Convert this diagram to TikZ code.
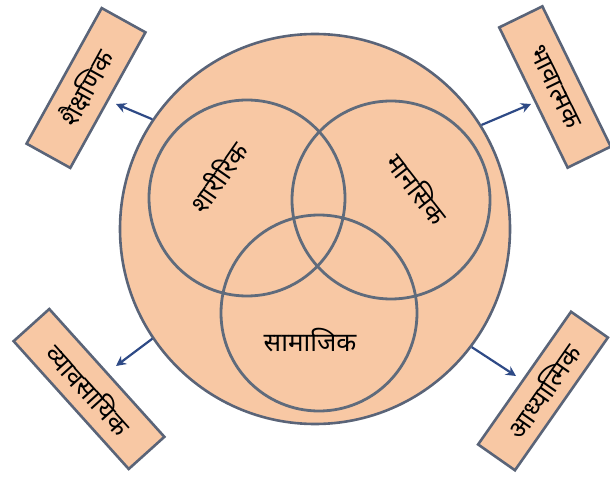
\documentclass[tikz,border=0pt]{standalone}
\usepackage{fontspec}
\newfontfamily\dev[Script=Devanagari]{Noto Sans}
\usetikzlibrary{arrows.meta}
\definecolor{peach}{HTML}{F8C8A4}
\definecolor{edge}{HTML}{5A6478}
\definecolor{ring}{HTML}{5F6B7C}
\definecolor{arrblue}{HTML}{2E4A86}
\tikzset{
  bigc/.style={circle, draw=edge, line width=2.6pt, fill=peach, inner sep=0pt, minimum size=390pt},
  ringc/.style={circle, draw=ring, line width=2.8pt, inner sep=0pt},
  lbl/.style={font=\dev\fontsize{26}{30}\selectfont, text=black, inner sep=0pt},
  tag/.style={draw=edge, line width=2.6pt, fill=peach, inner sep=0pt, font=\dev\fontsize{26}{30}\selectfont},
  arr/.style={draw=arrblue, line width=2.2pt, -{Stealth[length=10pt,width=10pt]}}
}
\begin{document}
\begin{tikzpicture}[x=1pt,y=-1pt]
\useasboundingbox (0,0) rectangle (610,478);
\node[bigc] (big) at (315,229) {};
\node[ringc, minimum size=196pt] (c1) at (247,198) {};
\node[ringc, minimum size=198pt] (c2) at (391,200) {};
\node[ringc, minimum size=196pt] (c3) at (319,313) {};
\node[lbl, rotate=55] (t1) at (218,177) {शारीरिक};
\node[lbl, rotate=-52] (t2) at (418,188) {मानसिक};
\node[lbl] (t3) at (310,340) {सामाजिक};
\node[tag, rotate=61, minimum width=155pt, minimum height=50pt] (b1) at (86,88) {शैक्षणिक};
\node[tag, rotate=-64, minimum width=156pt, minimum height=48pt] (b2) at (555,87) {भावात्मक};
\node[tag, rotate=-48, minimum width=172pt, minimum height=48pt] (b3) at (89,389) {व्यावसायिक};
\node[tag, rotate=55, minimum width=162pt, minimum height=45pt] (b4) at (543,391) {आध्यात्मिक};
\coordinate (e1) at (116,104);
\coordinate (e2) at (531,104);
\coordinate (e3) at (116,366);
\coordinate (e4) at (516,376);
\draw[arr] (big.146) -- (e1);
\draw[arr] (big.32) -- (e2);
\draw[arr] (big.214) -- (e3);
\draw[arr] (big.323) -- (e4);
\end{tikzpicture}
\end{document}
